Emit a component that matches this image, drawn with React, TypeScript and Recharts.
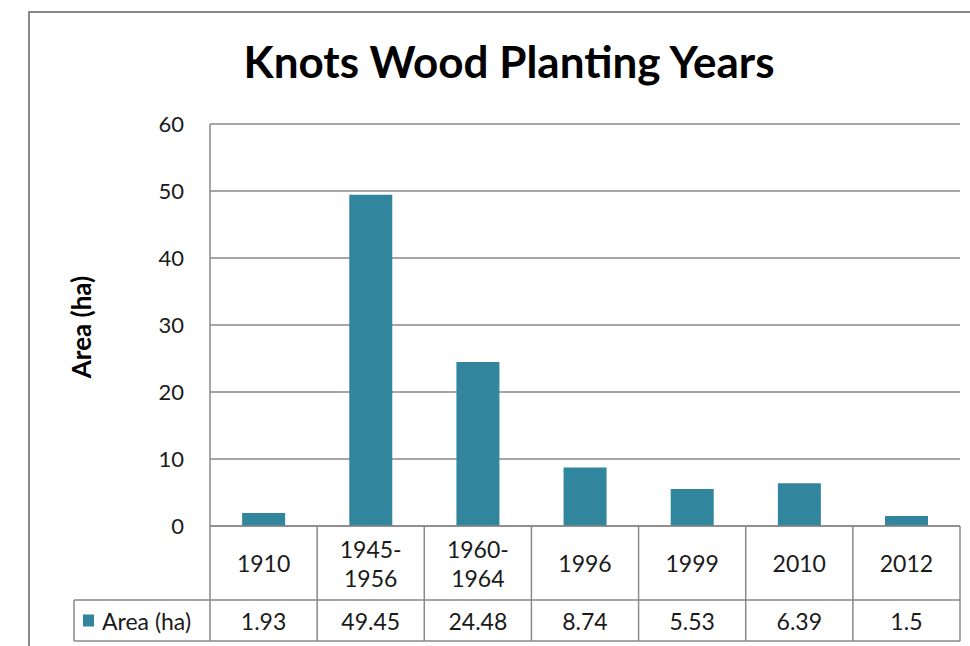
import { BarChart, Bar, XAxis, YAxis, CartesianGrid } from 'recharts';

const categories = ['1910', '1945-\n1956', '1960-\n1964', '1996', '1999', '2010', '2012'];
const areaValues = [1.93, 49.45, 24.48, 8.74, 5.53, 6.39, 1.5];
const valueLabels = ['1.93', '49.45', '24.48', '8.74', '5.53', '6.39', '1.5'];
const yTicks = [0, 10, 20, 30, 40, 50, 60];

const seriesName = 'Area (ha)';
const barColor = '#31859C';
const lineColor = '#898989';
const font = 'Lato, "Open Sans", sans-serif';

const data = categories.map((c, i) => ({ name: c, value: areaValues[i], label: valueLabels[i] }));

const CHART_W = 970;
const CHART_H = 646;
const PLOT_LEFT = 210;
const PLOT_RIGHT = 960;
const ROW1 = 74; // category row height
const ROW2 = 41; // value row height
const TABLE_FONT = 23;

function TableTick(props: any) {
  const { x, y, payload, index } = props;
  const bw = (PLOT_RIGHT - PLOT_LEFT) / categories.length;
  const top = y;
  const lines = String(payload.value).split('\n');
  const row = data[index];
  const left = x - bw / 2;
  const right = x + bw / 2;
  return (
    <g>
      <line x1={left} y1={top} x2={left} y2={top + ROW1 + ROW2} stroke={lineColor} strokeWidth={1.5} />
      {index === categories.length - 1 && (
        <line x1={right} y1={top} x2={right} y2={top + ROW1 + ROW2} stroke={lineColor} strokeWidth={1.5} />
      )}
      <line x1={left} y1={top + ROW1} x2={right} y2={top + ROW1} stroke={lineColor} strokeWidth={1.5} />
      <line x1={left} y1={top + ROW1 + ROW2} x2={right} y2={top + ROW1 + ROW2} stroke={lineColor} strokeWidth={1.5} />
      {lines.map((ln, i) => (
        <text
          key={i}
          x={x}
          y={top + ROW1 / 2 + (i - (lines.length - 1) / 2) * 29}
          textAnchor="middle"
          dominantBaseline="central"
          fontSize={TABLE_FONT}
          fontFamily={font}
          fill="#1a1a1a"
        >
          {ln}
        </text>
      ))}
      <text
        x={x}
        y={top + ROW1 + ROW2 / 2}
        textAnchor="middle"
        dominantBaseline="central"
        fontSize={TABLE_FONT}
        fontFamily={font}
        fill="#1a1a1a"
      >
        {row ? row.label : ''}
      </text>
      {index === 0 && (
        <g>
          <line x1={74} y1={top + ROW1} x2={left} y2={top + ROW1} stroke={lineColor} strokeWidth={1.5} />
          <line x1={74} y1={top + ROW1 + ROW2} x2={left} y2={top + ROW1 + ROW2} stroke={lineColor} strokeWidth={1.5} />
          <line x1={74} y1={top + ROW1} x2={74} y2={top + ROW1 + ROW2} stroke={lineColor} strokeWidth={1.5} />
          <rect x={83} y={top + ROW1 + ROW2 / 2 - 6} width={11} height={12} fill={barColor} />
          <text
            x={102}
            y={top + ROW1 + ROW2 / 2}
            dominantBaseline="central"
            fontSize={TABLE_FONT}
            fontFamily={font}
            fill="#1a1a1a"
          >
            {seriesName}
          </text>
        </g>
      )}
    </g>
  );
}

export default function App() {
  return (
    <div style={{ position: 'absolute', left: 0, top: 0, width: CHART_W, height: CHART_H, background: '#fff', overflow: 'hidden' }}>
      <div
        style={{
          position: 'absolute',
          left: 28,
          top: 11,
          width: 1000,
          height: 700,
          borderLeft: `2px solid ${lineColor}`,
          borderTop: `2px solid ${lineColor}`,
        }}
      />
      <div
        style={{
          position: 'absolute',
          left: 0,
          width: 1018,
          top: 35,
          textAlign: 'center',
          fontFamily: font,
          fontWeight: 700,
          fontSize: 44,
          lineHeight: '52px',
          color: '#000',
        }}
      >
        Knots Wood Planting Years
      </div>
      <div style={{ position: 'absolute', left: 0, top: 0 }}>
        <BarChart
          width={CHART_W}
          height={CHART_H}
          data={data}
          margin={{ top: 124, right: CHART_W - PLOT_RIGHT, bottom: 0, left: PLOT_LEFT - 80 }}
          barCategoryGap="30%"
        >
          <CartesianGrid vertical={false} stroke={lineColor} strokeWidth={1.5} />
          <XAxis
            dataKey="name"
            height={CHART_H - 526}
            interval={0}
            tickLine={false}
            axisLine={{ stroke: lineColor, strokeWidth: 1.5 }}
            tick={<TableTick />}
            tickMargin={0}
            tickSize={0}
          />
          <YAxis
            width={80}
            domain={[0, 60]}
            ticks={yTicks}
            tickLine={false}
            axisLine={{ stroke: lineColor, strokeWidth: 1.5 }}
            tickMargin={20}
            tick={{ fontSize: 22, fontFamily: font, fill: '#1a1a1a' }}
            label={{
              content: () => (
                <text
                  x={81}
                  y={327}
                  transform="rotate(-90 81 327)"
                  textAnchor="middle"
                  dominantBaseline="central"
                  fontSize={26}
                  fontWeight={700}
                  fontFamily={font}
                  fill="#000"
                >
                  {seriesName}
                </text>
              ),
            }}
          />
          <Bar dataKey="value" fill={barColor} isAnimationActive={false} />
        </BarChart>
      </div>
    </div>
  );
}
